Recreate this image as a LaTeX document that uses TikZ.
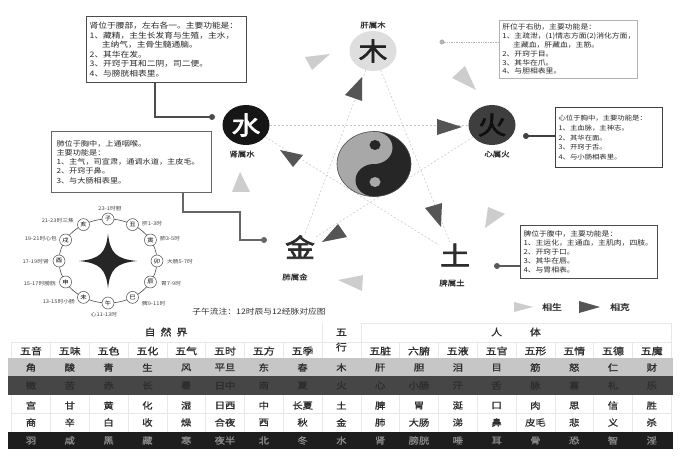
\documentclass[tikz,border=0pt]{standalone}
\usepackage{fontspec}
\newfontfamily\cjk[FakeStretch=1.15]{Noto Sans CJK SC}
\newfontfamily\cjkm[FakeStretch=1.15,FakeBold=1]{Noto Sans CJK SC}
\newfontfamily\cjkb[FakeStretch=1.15,FakeBold=2.5]{Noto Sans CJK SC}
\usetikzlibrary{shapes.geometric,calc}
\definecolor{mufill}{RGB}{222,222,222}
\definecolor{muchar}{RGB}{35,35,35}
\definecolor{shuifill}{RGB}{22,22,22}
\definecolor{huofill}{RGB}{62,62,62}
\definecolor{huochar}{RGB}{15,15,15}
\definecolor{yylight}{RGB}{168,168,168}
\definecolor{yydark}{RGB}{38,38,38}
\definecolor{shengc}{RGB}{205,205,205}
\definecolor{kec}{RGB}{85,85,85}
\definecolor{woodbg}{RGB}{198,198,198}
\definecolor{firebg}{RGB}{70,70,70}
\definecolor{firetx}{RGB}{45,45,45}
\definecolor{waterbg}{RGB}{30,30,30}
\definecolor{watertx}{RGB}{140,140,140}
\definecolor{gridc}{RGB}{232,232,232}
\definecolor{inkc}{RGB}{45,45,45}
\newcommand\tabrow[4]{\foreach \t [count=\i from 0] in {#4} {\node[cell,#2] (#3\i) at ({31+38.8*\i},#1) {\t};}}
\begin{document}
\begin{tikzpicture}[x=1pt,y=-1pt,
  every node/.style={inner sep=0pt},
  elem/.style={ellipse, minimum width=47pt, minimum height=40pt, inner sep=0pt, font=\cjkb\fontsize{25}{25}\selectfont},
  bigchar/.style={font=\cjkb\fontsize{26}{26}\selectfont, text=inkc, inner sep=1pt},
  elab/.style={font=\cjkm\fontsize{7.3}{7.3}\selectfont, text=inkc},
  infobox/.style={draw, align=left, anchor=north west, inner sep=3pt, text=black!85},
  dotn/.style={circle, fill, minimum size=6pt, inner sep=0pt},
  pent/.style={draw=gray!45, line width=0.5pt, dash pattern=on 2pt off 2pt},
  sheng/.style={fill=shengc},
  ke/.style={fill=kec},
  branch/.style={circle, draw=black!70, line width=0.5pt, fill=white, minimum size=12pt, inner sep=0pt, font=\cjk\fontsize{5.5}{5.5}\selectfont},
  clab/.style={font=\cjk\fontsize{5}{5}\selectfont, text=black!75},
  hdr/.style={font=\cjkm\fontsize{9.5}{9.5}\selectfont, text=inkc},
  cell/.style={font=\cjkm\fontsize{9}{9}\selectfont, text=inkc},
  gl/.style={draw=gridc, line width=0.5pt}
]
\fill[white] (0,0) rectangle (683,457);
\useasboundingbox (0,0) rectangle (683,457);

% ---------- five elements ----------
\node[elem, fill=mufill, text=muchar] (mu) at (373,51) {木};
\node[elem, fill=shuifill, text=white] (shui) at (246,125) {水};
\node[elem, fill=huofill, text=huochar] (huo) at (492,125) {火};
\node[bigchar] (jin) at (300,247) {金};
\node[bigchar] (tu) at (455,255) {土};

\node[elab] (mul) at (373,25) {肝属木};
\node[elab] (shuil) at (242,154) {肾属水};
\node[elab] (huol) at (497,154) {心属火};
\node[elab] (jinl) at (295,277) {肺属金};
\node[elab] (tul) at (452,283) {脾属土};

\draw[pent] (mu) -- (jin);
\draw[pent] (mu) -- (tu);
\draw[pent] (shui) -- (huo);
\draw[pent] (shui) -- (tu);
\draw[pent] (huo) -- (jin);

% ---------- yin yang ----------
\coordinate (yy) at (374,164);
\fill[yylight] (yy) ellipse [x radius=37, y radius=32.5];
\begin{scope}
  \clip (374,128) rectangle (414,200);
  \fill[yydark] (yy) ellipse [x radius=37, y radius=32.5];
\end{scope}
\fill[yylight] (374,147.75) ellipse [x radius=18.5, y radius=16.25];
\fill[yydark] (374,180.25) ellipse [x radius=18.5, y radius=16.25];
\fill[yydark] (375,145) ellipse [x radius=5.5, y radius=5];
\fill[yylight] (375,182) ellipse [x radius=5.5, y radius=5];
\draw[black!70, line width=0.6pt] (yy) ellipse [x radius=37, y radius=32.5];

% ---------- sheng (light) triangles ----------
\fill[sheng] (305,57) -- (330,54) -- (312,70) -- cycle;
\fill[sheng] (452,78) -- (465,66) -- (476,90) -- cycle;
\fill[sheng] (488,207) -- (505,214) -- (485,228) -- cycle;
\fill[sheng] (338,280) -- (363,275) -- (362,291) -- cycle;
\fill[sheng] (240,172) -- (232,192) -- (250,192) -- cycle;

% ---------- ke (dark) triangles ----------
\fill[ke] (345,95) -- (362,77) -- (362,101) -- cycle;
\fill[ke] (437,119) -- (462,127) -- (437,135) -- cycle;
\fill[ke] (322,242) -- (338,224) -- (347,237) -- cycle;
\fill[ke] (425,208) -- (442,203) -- (441,227) -- cycle;
\fill[ke] (280,150) -- (303,155) -- (293,167) -- cycle;

% ---------- info boxes ----------
\node[infobox, draw=black!70, line width=1.3pt, minimum width=160pt, minimum height=66pt, text width=154pt,
  font=\cjk\fontsize{7.6}{9.6}\selectfont] (shen) at (86,16)
  {肾位于腰部，左右各一。主要功能是：\\1、藏精，主生长发育与生殖，主水，\\\hspace*{1.6em}主纳气，主骨生髓通脑。\\2、其华在发。\\3、开窍于耳和二阴，司二便。\\4、与膀胱相表里。};
\node[infobox, draw=black!30, line width=0.6pt, minimum width=138pt, minimum height=58pt, text width=132pt,
  font=\cjk\fontsize{6.8}{8.8}\selectfont] (gan) at (499,20)
  {肝位于右肋，主要功能是：\\1、主疏泄，(1)情志方面(2)消化方面，\\\hspace*{1.6em}主藏血，肝藏血，主筋。\\2、开窍于目。\\3、其华在爪。\\4、与胆相表里。};
\node[infobox, draw=black!75, line width=1.2pt, minimum width=107pt, minimum height=60pt, text width=101pt,
  font=\cjk\fontsize{6.4}{9.7}\selectfont] (xin) at (555,107)
  {心位于胸中，主要功能是：\\1、主血脉，主神志。\\2、其华在面。\\3、开窍于舌。\\4、与小肠相表里。};
\node[infobox, draw=black!60, line width=1pt, inner sep=5pt, minimum width=160pt, minimum height=61pt, text width=150pt,
  font=\cjk\fontsize{7.1}{9.2}\selectfont] (fei) at (51,131)
  {肺位于胸中，上通咽喉。\\主要功能是：\\1、主气，司宣肃，通调水道，主皮毛。\\2、开窍于鼻。\\3、与大肠相表里。};
\node[infobox, draw=black!70, line width=1pt, minimum width=137pt, minimum height=53pt, text width=131pt,
  font=\cjk\fontsize{6.8}{9}\selectfont] (pi) at (520,225)
  {脾位于腹中，主要功能是：\\1、主运化，主通血，主肌肉，四肢。\\2、开窍于口。\\3、其华在唇。\\4、与胃相表。};

% ---------- connectors ----------
\node[dotn, fill=black!70] (shendot) at (212,117) {};
\coordinate (shenk) at (155,117);
\draw[black!70, line width=1.5pt] (shen.south -| shenk) |- (shendot.center);

\node[dotn, fill=black!30, minimum size=5pt] (gandot) at (442,42) {};
\draw[black!30, line width=0.7pt, densely dotted] (gandot.center) -- (gan.west |- gandot);

\node[dotn, fill=black!75] (xindot) at (526,136) {};
\draw[black!75, line width=1.6pt] (xindot.center) -- (xin.west |- xindot);

\node[dotn, fill=black!65] (pidot) at (497,266) {};
\draw[black!65, line width=1.4pt] (pidot.center) -- (pi.west |- pidot);

\node[dotn, fill=black!60] (feidot) at (264,240) {};
\coordinate (feik1) at (183,212);
\coordinate (feik2) at (240,212);
\coordinate (feik3) at (240,240);
\draw[black!60, line width=1.5pt] (fei.south -| feik1) -- (feik1) -- (feik2) -- (feik3) -- (feidot.center);

% ---------- clock ----------
\coordinate (clk) at (108,261);
\draw[black!70, line width=0.6pt] (clk) ellipse [x radius=49, y radius=42];
\begin{scope}[shift={(clk)}]
\fill[black!85] (0,-27.5) .. controls (2,-8) and (8,-2) .. (29,0)
  .. controls (8,2) and (2,8) .. (0,27.5)
  .. controls (-2,8) and (-8,2) .. (-29,0)
  .. controls (-8,-2) and (-2,-8) .. (0,-27.5) -- cycle;
\end{scope}
\foreach \b [count=\k from 0] in {子,丑,寅,卯,辰,巳,午,未,申,酉,戌,亥}
  \node[branch] (br\k) at ($(clk)+({30*\k-90}:49 and 42)$) {\b};

\node[clab] (l0) at (110,209) {23-1时胆};
\node[clab, anchor=west] (l1) at (142,224) {肝1-3时};
\node[clab, anchor=west] (l2) at (160,239) {肺3-5时};
\node[clab, anchor=west] (l3) at (167,262) {大肠5-7时};
\node[clab, anchor=west] (l4) at (161,284) {胃7-9时};
\node[clab, anchor=west] (l5) at (142,304) {脾9-11时};
\node[clab] (l6) at (104,315) {心11-13时};
\node[clab, anchor=east] (l7) at (75,302) {13-15时小肠};
\node[clab, anchor=east] (l8) at (56,284) {15-17时膀胱};
\node[clab, anchor=east] (l9) at (49,262) {17-19时肾};
\node[clab, anchor=east] (l10) at (57,239) {19-21时心包};
\node[clab, anchor=east] (l11) at (74,221) {21-23时三焦};

\node[font=\cjk\fontsize{7.6}{8}\selectfont, text=black!80] (cap) at (259,312) {子午流注：12时辰与12经脉对应图};

% ---------- legend ----------
\fill[sheng] (514,302) -- (533,307) -- (514,312) -- cycle;
\node[font=\cjkm\fontsize{8.5}{8.5}\selectfont, text=inkc] (lgs) at (552,307) {相生};
\fill[ke] (579,301) -- (600,307) -- (579,313) -- cycle;
\node[font=\cjkm\fontsize{8.5}{8.5}\selectfont, text=inkc] (lgk) at (620,307) {相克};

% ---------- table ----------
\fill[woodbg] (8,358) rectangle (673,376);
\fill[firebg] (8,376) rectangle (673,395);
\fill[waterbg] (8,432) rectangle (673,449);

\foreach \j in {0,...,17} {
  \draw[gl] ({11.6+38.8*\j},342) -- ({11.6+38.8*\j},358);
  \draw[gl] ({11.6+38.8*\j},395) -- ({11.6+38.8*\j},432);
}
\draw[gl] (11.6,342) -- (671.2,342);
\draw[gl] (11.6,413.5) -- (671.2,413.5);
\draw[gl] (360.8,323) -- (671.2,323);
\draw[gl] (322,323) -- (322,342);
\draw[gl] (360.8,323) -- (360.8,342);
\draw[gl] (671.2,323) -- (671.2,342);

\node[hdr] (zrj) at (166,332) {自\hspace{5pt}然\hspace{5pt}界};
\node[hdr] (rt) at (516,332) {人\hspace{28pt}体};
\node[hdr, align=center, font=\cjkm\fontsize{9.5}{15}\selectfont] (wx) at (341.4,340) {五\\行};

\foreach \t [count=\i from 0] in {五音,五味,五色,五化,五气,五时,五方,五季}
  \node[hdr] (hl\i) at ({31+38.8*\i},351) {\t};
\foreach \t [count=\i from 9] in {五脏,六腑,五液,五官,五形,五情,五德,五魔}
  \node[hdr] (hr\i) at ({31+38.8*\i},351) {\t};

\tabrow{367.5}{}{w}{角,酸,青,生,风,平旦,东,春,木,肝,胆,泪,目,筋,怒,仁,财}
\tabrow{385.5}{text=firetx}{f}{徵,苦,赤,长,暑,日中,南,夏,火,心,小肠,汗,舌,脉,喜,礼,乐}
\tabrow{405.5}{}{e}{宫,甘,黄,化,湿,日西,中,长夏,土,脾,胃,涎,口,肉,思,信,胜}
\tabrow{422.5}{}{m}{商,辛,白,收,燥,合夜,西,秋,金,肺,大肠,涕,鼻,皮毛,悲,义,杀}
\tabrow{440.5}{text=watertx}{wa}{羽,咸,黑,藏,寒,夜半,北,冬,水,肾,膀胱,唾,耳,骨,恐,智,淫}
\end{tikzpicture}
\end{document}
